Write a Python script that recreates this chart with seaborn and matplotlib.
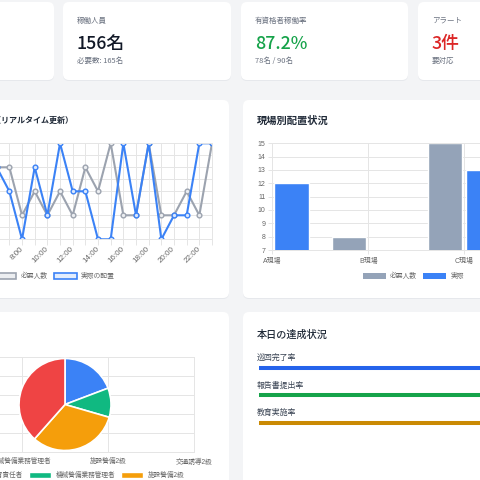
import numpy as np
import pandas as pd
import matplotlib
matplotlib.use("Agg")
import matplotlib.pyplot as plt
import seaborn as sns
from matplotlib.patches import FancyBboxPatch, Patch

sns.set_theme(style="white")
plt.rcParams["font.family"] = ["Noto Sans CJK JP", "DejaVu Sans"]

# ---------------- data ----------------
kpi_labels = ["稼働人員", "有資格者稼働率", "アラート"]
kpi_values = ["156名", "87.2%", "3件"]
kpi_subs = ["必要数: 165名", "78名 / 90名", "要対応"]

hours = list(range(6, 24))
hour_labels = [f"{h}:00" for h in hours]
required = [16, 16, 12, 14, 12, 14, 12, 16, 14, 18, 12, 12, 18, 12, 12, 14, 12, 18]
actual = [16, 14, 10, 16, 12, 18, 14, 14, 10, 10, 18, 12, 18, 10, 12, 12, 18, 18]

sites = ["A現場", "B現場", "C現場"]
site_required = [10, 8, 15]
site_actual = [12, 7, 13]

quals = ["警備員指導教育責任者", "機械警備業務管理者", "施設警備2級", "交通誘導2級"]
qual_counts = [15, 8, 25, 30]

progress_labels = ["巡回完了率", "報告書提出率", "教育実施率"]
progress_values = [95, 88, 76]

# ---------------- style ----------------
BG = "#f3f4f6"
GRID = "#e5e5e5"
TICK = "#666666"
GRAY_LINE = "#9ca3af"
GRAY_BAR = "#94a3b8"
BLUE = "#3b82f6"
PIE_COLORS = ["#3b82f6", "#10b981", "#f59e0b", "#ef4444"]
PROG_COLORS = ["#2563eb", "#16a34a", "#ca8a04"]
CHART_FONT = ["Liberation Sans", "Noto Sans CJK JP"]

W = H = 480
fig = plt.figure(figsize=(4.8, 4.8), dpi=100, facecolor=BG)


def ax_px(x0, y0, x1, y1):
    a = fig.add_axes([x0 / W, 1 - y1 / H, (x1 - x0) / W, (y1 - y0) / H])
    a.set_facecolor("none")
    return a


def card(x0, y0, x1, y1):
    fig.patches.append(FancyBboxPatch(
        (x0 / W, 1 - (y1 + 1) / H), (x1 - x0) / W, (y1 - y0) / H,
        boxstyle="round,pad=0,rounding_size=0.0125", transform=fig.transFigure,
        fc="#e6e8ec", ec="none", zorder=-2))
    fig.patches.append(FancyBboxPatch(
        (x0 / W, 1 - y1 / H), (x1 - x0) / W, (y1 - y0) / H,
        boxstyle="round,pad=0,rounding_size=0.0125", transform=fig.transFigure,
        fc="white", ec="none", zorder=-1))


def ftext(x, y, s, **kw):
    return fig.text(x / W, 1 - y / H, s, **kw)


def style_ticks(a):
    for lab in a.get_xticklabels() + a.get_yticklabels():
        lab.set_family(CHART_FONT)


# ---------------- cards ----------------
card(-120, 2, 54, 80)
card(63, 2, 231, 80)
card(241, 2, 408, 80)
card(418, 2, 600, 80)
card(-300, 100, 229, 298)
card(243, 100, 760, 298)
card(-300, 312, 229, 700)
card(243, 312, 760, 700)

# ---------------- KPI cards ----------------
kpi_x = [77, 255, 432]
kpi_colors = ["#111827", "#16a34a", "#dc2626"]
for x, lab, val, sub, c in zip(kpi_x, kpi_labels, kpi_values, kpi_subs, kpi_colors):
    ftext(x, 21, lab, fontsize=5.4, color="#6b7280", va="center")
    ftext(x, 49, val, fontsize=12.8, color=c, va="baseline", weight="medium")
    ftext(x, 61, sub, fontsize=5.4, color="#6b7280", va="center")

# ---------------- line chart ----------------
ftext(73, 120, "時間帯別配置推移（リアルタイム更新）", fontsize=5.8, weight="bold",
      color="#1f2937", ha="right", va="center")
axl = ax_px(-3.3, 143.3, 212, 239.3)
sns.lineplot(x=hours, y=required, ax=axl, color=GRAY_LINE, lw=1.5, marker="o",
             ms=3.4, mfc="#eceef1", mec=GRAY_LINE, mew=1.0, legend=False)
sns.lineplot(x=hours, y=actual, ax=axl, color=BLUE, lw=1.5, marker="o",
             ms=3.4, mfc="#dbe8fd", mec=BLUE, mew=1.0, legend=False)
axl.set_xlim(hours[0], hours[-1])
axl.set_ylim(10, 18)
axl.set_xticks(hours)
# 6:00 sits at the very edge (off-screen in the reference); labels every 2 h from 8:00
axl.set_xticklabels([l if (h % 2 == 0 and h >= 8) else "" for h, l in zip(hours, hour_labels)],
                    rotation=45, ha="right", va="center", rotation_mode="anchor")
axl.set_yticks(range(10, 19))
axl.grid(True, color=GRID, lw=0.7)
axl.set_axisbelow(True)
axl.tick_params(axis="x", length=4, width=0.7, color=GRID, pad=2.0,
                labelsize=5.8, labelcolor=TICK, bottom=True)
axl.tick_params(axis="y", length=0, labelleft=False)
for s in axl.spines.values():
    s.set_color(GRID)
    s.set_linewidth(0.7)
axl.set_xlabel("")
axl.set_ylabel("")
style_ticks(axl)

fig.legend(handles=[Patch(fc="#eceef1", ec=GRAY_LINE, lw=1.2),
                    Patch(fc="#e3edfd", ec=BLUE, lw=1.2)],
           labels=["必要人数", "実際の配置"], loc="center",
           bbox_to_anchor=(54 / W, 1 - 276 / H), ncol=2, frameon=False,
           fontsize=4.9, handlelength=3.4, handleheight=1.05, handletextpad=0.6,
           columnspacing=0.9, labelcolor=TICK)

# ---------------- bar chart ----------------
ftext(257, 121, "現場別配置状況", fontsize=7.4, weight="bold", color="#1f2937", va="center")
axb = ax_px(272.3, 143.3, 560.3, 250)
df_bar = pd.DataFrame({
    "site": sites * 2,
    "series": ["必要人数"] * len(sites) + ["実際"] * len(sites),
    "value": site_required + site_actual,
})
sns.barplot(data=df_bar, x="site", y="value", hue="series", order=sites,
            hue_order=["必要人数", "実際"], palette=[GRAY_BAR, BLUE],
            saturation=1, gap=0.1, ax=axb, legend=False)
axb.set_xlim(0, 3)
axb.set_ylim(7, 15)
axb.set_xticks(range(len(sites)))
axb.set_xticklabels(sites)
axb.set_yticks(range(7, 16))
axb.grid(True, color=GRID, lw=0.7)
axb.set_axisbelow(True)
axb.tick_params(axis="x", length=3, width=0.7, color=GRID, pad=2.5,
                labelsize=5.0, labelcolor=TICK, bottom=True)
axb.tick_params(axis="y", length=3, width=0.7, color=GRID, pad=1.8,
                labelsize=5.0, labelcolor=TICK, left=True)
for s in axb.spines.values():
    s.set_color(GRID)
    s.set_linewidth(0.7)
axb.set_xlabel("")
axb.set_ylabel("")
style_ticks(axb)

fig.legend(handles=[Patch(fc=GRAY_BAR, ec="none"), Patch(fc=BLUE, ec="none")],
           labels=["必要人数", "実際"], loc="center",
           bbox_to_anchor=(413.5 / W, 1 - 276 / H), ncol=2, frameon=False,
           fontsize=4.9, handlelength=3.4, handleheight=1.05, handletextpad=0.6,
           columnspacing=0.9, labelcolor=TICK)

# ---------------- pie chart ----------------
axg = ax_px(-64, 357, 194, 452)
axg.set_xlim(0, len(quals) - 1)
axg.set_ylim(0, 5)
axg.set_xticks(range(len(quals)))
axg.set_xticklabels([""] + quals[1:])  # first category label lies fully off-screen
axg.set_yticks(range(0, 6))
axg.grid(True, color=GRID, lw=0.7)
axg.tick_params(axis="x", length=0, pad=4.5, labelsize=4.8, labelcolor=TICK)
axg.tick_params(axis="y", length=0, labelleft=False)
for s in axg.spines.values():
    s.set_color(GRID)
    s.set_linewidth(0.7)
style_ticks(axg)

r = 46
cx, cy = 65, 404.5
axp = ax_px(cx - r * 1.03, cy - r * 1.03, cx + r * 1.03, cy + r * 1.03)
axp.pie(qual_counts, colors=PIE_COLORS, startangle=90, counterclock=False,
        wedgeprops=dict(edgecolor="white", linewidth=1.2))
axp.set_xlim(-1.03, 1.03)
axp.set_ylim(-1.03, 1.03)
axp.set_axis_off()

order = [0, 3, 1, 2]
fig.legend(handles=[Patch(fc=PIE_COLORS[i], ec="white") for i in order],
           labels=[quals[i] for i in order], loc="upper left",
           bbox_to_anchor=(-70.7 / W, 1 - 471 / H), ncol=3, frameon=False,
           fontsize=4.8, handlelength=3.3, handleheight=1.05, handletextpad=0.75,
           columnspacing=0.9, borderpad=0, borderaxespad=0, labelcolor=TICK)

# ---------------- progress card ----------------
ftext(257, 334.5, "本日の達成状況", fontsize=7.3, color="#1f2937", va="center",
      weight="medium")
axr = ax_px(259, 355, 700, 435)
row_px = 27.5
axr.set_ylim((435 - 367.7) / row_px, -(367.7 - 355) / row_px)
axr.set_xlim(0, 100)
for i, (lab, v, c) in enumerate(zip(progress_labels, progress_values, PROG_COLORS)):
    axr.plot([0, v], [i, i], color=c, lw=2.9, solid_capstyle="round")
    axr.text(-2 / 441, i - 10.3 / row_px, lab, transform=axr.get_yaxis_transform(),
             fontsize=5.7, color="#374151", va="center", ha="left")
axr.set_axis_off()

fig.savefig("out.png", dpi=100, facecolor=BG)
